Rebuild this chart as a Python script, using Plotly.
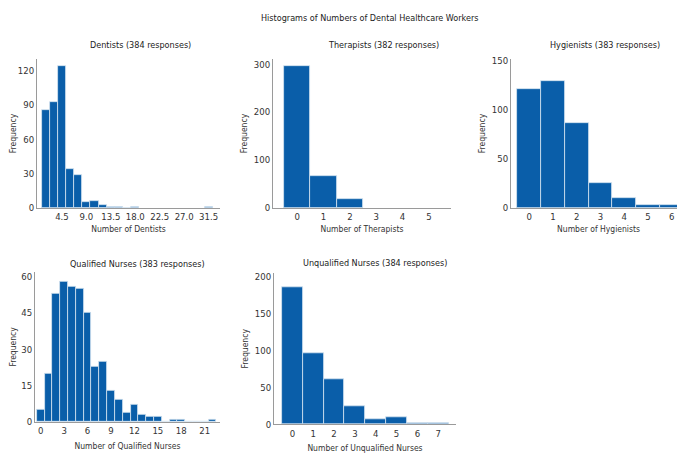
import plotly.graph_objects as go

# ---- data ----
dent_x = [1.5, 3.0, 4.5, 6.0, 7.5, 9.0, 10.5, 12.0, 13.5, 15.0, 16.5, 18.0, 31.5]
dent_y = [86, 93, 124, 34, 29, 5, 6, 3, 1, 1, 0, 1, 1]
dent_ticks = [4.5, 9.0, 13.5, 18.0, 22.5, 27.0, 31.5]
dent_ticklabels = ["4.5", "9.0", "13.5", "18.0", "22.5", "27.0", "31.5"]

ther_x = [0, 1, 2]
ther_y = [296, 67, 19]
ther_ticks = [0, 1, 2, 3, 4, 5]

hyg_x = [0, 1, 2, 3, 4, 5, 6]
hyg_y = [121, 130, 87, 26, 10, 3, 3]
hyg_ticks = [0, 1, 2, 3, 4, 5, 6]

qn_x = list(range(0, 23))
qn_y = [5, 20, 53, 58, 56, 55, 45, 23, 25, 13, 9, 4, 7, 3, 2, 2, 0, 1, 1, 0, 0, 0, 1]
qn_ticks = [0, 3, 6, 9, 12, 15, 18, 21]

un_x = [0, 1, 2, 3, 4, 5, 6, 7]
un_y = [185, 96, 61, 24, 7, 9, 1, 1]
un_ticks = [0, 1, 2, 3, 4, 5, 6, 7]

titles = ["Dentists (384 responses)", "Therapists (382 responses)", "Hygienists (383 responses)",
          "Qualified Nurses (383 responses)", "Unqualified Nurses (384 responses)"]
xtitles = ["Number of Dentists", "Number of Therapists", "Number of Hygienists",
           "Number of Qualified Nurses", "Number of Unqualified Nurses"]
main_title = "Histograms of Numbers of Dental Healthcare Workers"

W, H = 685, 453
FONT = "Liberation Sans Narrow, DejaVu Sans Condensed, Arial Narrow, sans-serif"
BAR = "#0a5ea9"
EDGE = "rgba(215,228,240,1)"

fig = go.Figure()

series = [
    (dent_x, dent_y, 1.5),
    (ther_x, ther_y, 1.0),
    (hyg_x, hyg_y, 1.0),
    (qn_x, qn_y, 1.0),
    (un_x, un_y, 1.0),
]
for i, (xs, ys, w) in enumerate(series):
    sfx = "" if i == 0 else str(i + 1)
    fig.add_trace(go.Bar(x=xs, y=ys, width=w, marker=dict(color=BAR, line=dict(color=EDGE, width=0.8)),
                         xaxis="x" + sfx, yaxis="y" + sfx, showlegend=False))

def px_x(a, b):
    return [a / W, b / W]

def px_y(bottom, top):
    return [1 - bottom / H, 1 - top / H]

axes = [
    ((29, 212), (200, 48), [-0.1, 33.6], [0, 130.3], [0, 30, 60, 90, 120], dent_ticks, dent_ticklabels, 4),
    ((265, 443), (200, 48), [-0.92, 5.84], [0, 310.8], [0, 100, 200, 300], ther_ticks, None, 4),
    ((503, 678), (200, 48), [-0.77, 6.6], [0, 152], [0, 50, 100, 150], hyg_ticks, None, 4),
    ((27, 212), (418.3, 265), [-0.73, 22.96], [0, 62], [0, 15, 30, 45, 60], qn_ticks, None, 7),
    ((266, 448), (420.7, 266.5), [-0.88, 7.85], [0, 204.5], [0, 50, 100, 150, 200], un_ticks, None, 7),
]

lay = {}
for i, (xd, yd, xr, yr, yt, xt, xtl, so) in enumerate(axes):
    sfx = "" if i == 0 else str(i + 1)
    xa = dict(domain=px_x(*xd), range=xr, anchor="y" + sfx, showgrid=False, zeroline=False,
              showline=True, linecolor="#9a9a9a", linewidth=1, ticks="", ticklen=0,
              tickvals=xt, tickfont=dict(family=FONT, size=9.5, color="#333333"),
              title=dict(text=xtitles[i], font=dict(family=FONT, size=8.5, color="#333333"), standoff=so),
              fixedrange=True)
    if xtl is not None:
        xa["ticktext"] = xtl
    ya = dict(domain=px_y(*yd), range=yr, anchor="x" + sfx, showgrid=False, zeroline=False,
              showline=True, linecolor="#9a9a9a", linewidth=1, ticks="",
              tickvals=yt, tickfont=dict(family=FONT, size=9.5, color="#333333"),
              title=dict(text="Frequency", font=dict(family=FONT, size=8.5, color="#333333"), standoff=4),
              fixedrange=True)
    lay["xaxis" + sfx] = xa
    lay["yaxis" + sfx] = ya

ann = []
title_pos = [(132, 34), (375, 34), (597, 34), (129, 257), (367, 256)]
for t, (cx, cy) in zip(titles, title_pos):
    ann.append(dict(text=t, x=cx / W, y=1 - cy / H, xref="paper", yref="paper", showarrow=False,
                    xanchor="center", yanchor="middle", font=dict(family=FONT, size=9, color="#222222")))
ann.append(dict(text=main_title, x=362 / W, y=1 - 6 / H, xref="paper", yref="paper", showarrow=False,
                xanchor="center", yanchor="middle", font=dict(family=FONT, size=9, color="#222222")))

fig.update_layout(width=W, height=H, margin=dict(l=0, r=0, t=0, b=0), plot_bgcolor="white",
                  paper_bgcolor="white", bargap=0, annotations=ann, **lay)

fig.write_html("out.html", config={"displayModeBar": False})
